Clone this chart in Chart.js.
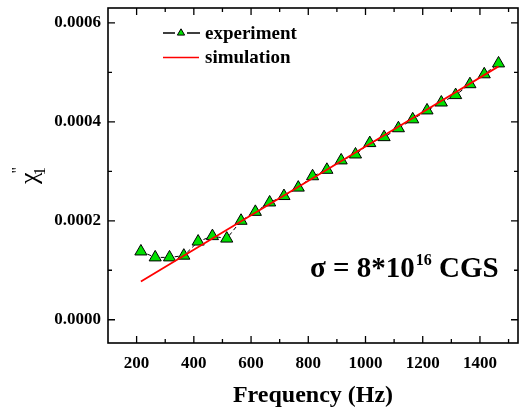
<!DOCTYPE html>
<html>
<head>
<meta charset="utf-8">
<script src="https://cdn.jsdelivr.net/npm/chart.js@4.4.1/dist/chart.umd.min.js"></script>
<style>
html,body{margin:0;padding:0;background:#fff;}
canvas{display:block;}
</style>
</head>
<body>
<canvas id="c" width="519" height="417"></canvas>
<script>
// ---- data ----
const freqs = [215, 265, 315, 365, 415, 465, 515, 565, 615, 665, 715, 765, 815, 865, 915, 965, 1015, 1065, 1115, 1165, 1215, 1265, 1315, 1365, 1415, 1465];
const chiExp = [0.000138, 0.000126, 0.000126, 0.0001295, 0.000158, 0.000169, 0.000164, 0.000200, 0.000218, 0.000237, 0.000250, 0.000267, 0.000290, 0.000303, 0.000322, 0.000334, 0.000357, 0.000369, 0.000387, 0.000405, 0.000423, 0.000439, 0.000454, 0.000476, 0.000496, 0.000518];
const simFreqs = [215, 465, 715, 965, 1215, 1465];
const chiSim = [0.0000773, 0.000164, 0.000251, 0.000338, 0.000425, 0.000512];
const xMajorTicks = [200, 400, 600, 800, 1000, 1200, 1400];
const xMinorTicks = [300, 500, 700, 900, 1100, 1300, 1500];
const yMajorTicks = [0, 0.0002, 0.0004, 0.0006];
const yMinorTicks = [0.0001, 0.0003, 0.0005];
const seriesNames = ['experiment', 'simulation'];
const xTitle = 'Frequency (Hz)';
const annotationMain = 'σ = 8*10';
const annotationSup = '16';
const annotationTail = ' CGS';

const SERIF = "'Liberation Serif', 'Times New Roman', serif";
const GREEN = '#00e000';
const PLOT_RIGHT = 518;

const zeroPad = s => { s.paddingTop = 0; s.paddingBottom = 0; s.paddingLeft = 0; s.paddingRight = 0; };

const framePlugin = {
  id: 'frame',
  afterLayout(chart) {
    const a = chart.chartArea;
    a.right = PLOT_RIGHT;
    a.width = a.right - a.left;
    const xs = chart.scales.x;
    xs.right = PLOT_RIGHT;
    xs.width = xs.right - xs.left;
    xs.configure();
  },
  afterDraw(chart) {
    const ctx = chart.ctx;
    const a = chart.chartArea;
    const xs = chart.scales.x, ys = chart.scales.y;
    ctx.save();
    ctx.strokeStyle = '#000';
    ctx.lineWidth = 1.6;
    ctx.strokeRect(a.left, a.top, a.right - a.left, a.bottom - a.top);
    ctx.lineWidth = 1.3;
    const major = 7, minor = 4;
    ctx.beginPath();
    const xt = (v, len) => {
      const px = xs.getPixelForValue(v);
      ctx.moveTo(px, a.bottom); ctx.lineTo(px, a.bottom - len);
      ctx.moveTo(px, a.top); ctx.lineTo(px, a.top + len);
    };
    const yt = (v, len) => {
      const py = ys.getPixelForValue(v);
      ctx.moveTo(a.left, py); ctx.lineTo(a.left + len, py);
      ctx.moveTo(a.right, py); ctx.lineTo(a.right - len, py);
    };
    xMajorTicks.forEach(v => xt(v, major));
    xMinorTicks.forEach(v => xt(v, minor));
    yMajorTicks.forEach(v => yt(v, major));
    yMinorTicks.forEach(v => yt(v, minor));
    ctx.stroke();

    // legend
    ctx.fillStyle = '#000';
    ctx.font = 'bold 19px ' + SERIF;
    ctx.textBaseline = 'middle';
    ctx.textAlign = 'left';
    ctx.lineWidth = 1.3;
    ctx.beginPath();
    ctx.moveTo(163, 33); ctx.lineTo(175, 33);
    ctx.moveTo(187, 33); ctx.lineTo(200, 33);
    ctx.stroke();
    const r = 4.2, cx = 181, cy = 33;
    ctx.beginPath();
    ctx.moveTo(cx, cy - r);
    ctx.lineTo(cx + Math.sin(2 * Math.PI / 3) * r, cy - Math.cos(2 * Math.PI / 3) * r);
    ctx.lineTo(cx + Math.sin(4 * Math.PI / 3) * r, cy - Math.cos(4 * Math.PI / 3) * r);
    ctx.closePath();
    ctx.fillStyle = GREEN; ctx.fill();
    ctx.lineWidth = 1; ctx.stroke();
    ctx.fillStyle = '#000';
    ctx.fillText(seriesNames[0], 205, 34);
    ctx.strokeStyle = '#ff0000';
    ctx.lineWidth = 1.6;
    ctx.beginPath(); ctx.moveTo(163, 57.5); ctx.lineTo(199, 57.5); ctx.stroke();
    ctx.fillText(seriesNames[1], 205, 58);

    // annotation
    ctx.textBaseline = 'alphabetic';
    ctx.font = 'bold 29px ' + SERIF;
    let x = 310;
    ctx.fillText(annotationMain, x, 277);
    x += ctx.measureText(annotationMain).width + 1;
    ctx.font = 'bold 16px ' + SERIF;
    ctx.fillText(annotationSup, x, 265);
    x += ctx.measureText(annotationSup).width;
    ctx.font = 'bold 29px ' + SERIF;
    ctx.fillText(annotationTail, x, 277);

    // y title  chi_1''
    ctx.save();
    ctx.translate(37, 184);
    ctx.rotate(-Math.PI / 2);
    ctx.font = '26px ' + SERIF;
    ctx.fillText('χ', 0, 0);
    const w = ctx.measureText('χ').width;
    ctx.font = '17px ' + SERIF;
    ctx.fillText('1', w - 3, 8);
    ctx.font = '16px ' + SERIF;
    ctx.fillText('"', w - 1, -14);
    ctx.restore();
    ctx.restore();
  }
};

new Chart(document.getElementById('c'), {
  type: 'line',
  data: {
    datasets: [
      {
        label: seriesNames[0],
        data: freqs.map((f, i) => ({x: f, y: chiExp[i]})),
        borderColor: '#000',
        borderWidth: 1,
        borderDash: [4, 3],
        pointStyle: 'triangle',
        pointRadius: 7,
        pointBackgroundColor: GREEN,
        pointBorderColor: '#000',
        pointBorderWidth: 1,
        tension: 0,
        order: 2
      },
      {
        label: seriesNames[1],
        data: simFreqs.map((f, i) => ({x: f, y: chiSim[i]})),
        borderColor: '#ff0000',
        borderWidth: 1.8,
        pointRadius: 0,
        tension: 0,
        order: 1
      }
    ]
  },
  options: {
    responsive: false,
    animation: false,
    devicePixelRatio: 1,
    layout: {padding: {top: 6, right: 1, left: 0, bottom: 0}},
    plugins: {legend: {display: false}, tooltip: {enabled: false}},
    scales: {
      x: {
        type: 'linear', min: 100, max: 1533,
        afterBuildTicks: s => { s.ticks = xMajorTicks.map(v => ({value: v})); },
        afterFit: s => { s.height = 74; zeroPad(s); },
        grid: {display: false, drawTicks: false},
        border: {display: false},
        ticks: {color: '#000', padding: 10, maxRotation: 0, autoSkip: false,
          font: {family: SERIF, size: 17, weight: 'bold'}, callback: v => String(v)},
        title: {display: true, text: xTitle, color: '#000',
          font: {family: SERIF, size: 24, weight: 'bold'}, padding: {top: 0, bottom: 7}}
      },
      y: {
        type: 'linear', min: -0.000047, max: 0.00063,
        afterBuildTicks: s => { s.ticks = yMajorTicks.map(v => ({value: v})); },
        afterFit: s => { s.width = 108; zeroPad(s); },
        grid: {display: false, drawTicks: false},
        border: {display: false},
        ticks: {color: '#000', padding: 7, autoSkip: false,
          font: {family: SERIF, size: 17, weight: 'bold'}, callback: v => v.toFixed(4)}
      }
    }
  },
  plugins: [framePlugin]
});
</script>
</body>
</html>
